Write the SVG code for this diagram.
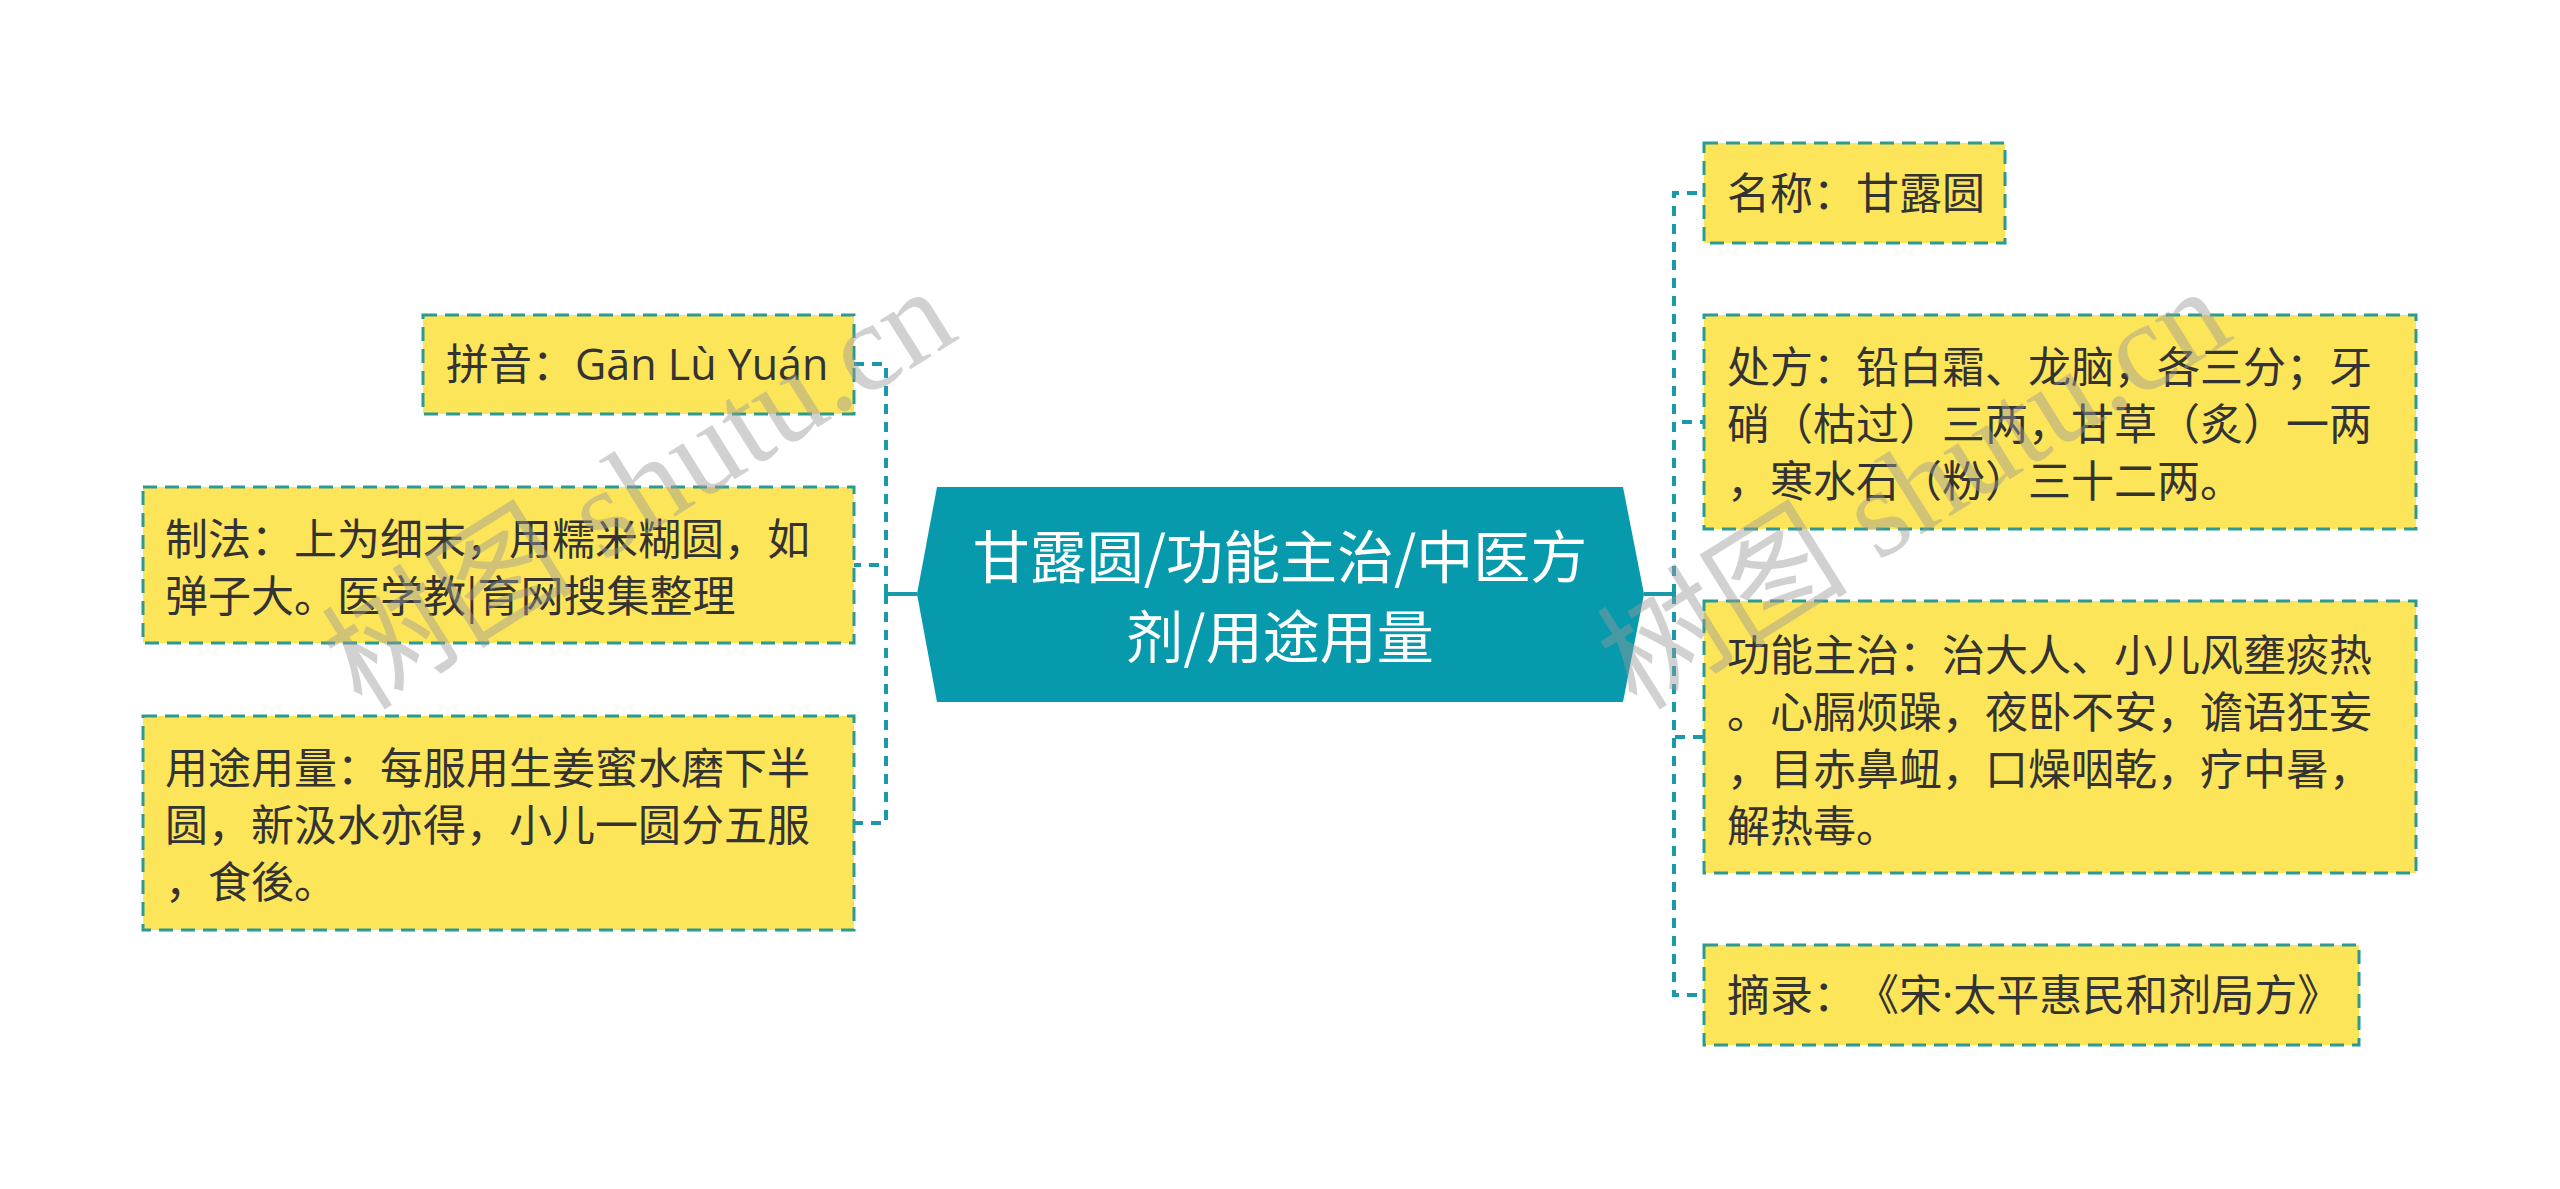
<svg xmlns="http://www.w3.org/2000/svg" width="2560" height="1189" viewBox="0 0 2560 1189">
<style>
.box{fill:#fde55a;stroke:#2a9a92;stroke-width:3;stroke-dasharray:14 8;}
.t{font-family:"Noto Sans CJK SC","Noto Sans",sans-serif;font-size:43px;fill:#333333;text-spacing-trim:space-all;}
.lat{font-family:"Open Sans","Noto Sans CJK SC",sans-serif;}
.ct{font-family:"Noto Sans CJK SC","Noto Sans",sans-serif;font-size:57px;fill:#ffffff;text-anchor:middle;}
.dc{fill:none;stroke:#1a99ab;stroke-width:4;stroke-dasharray:10 8;}
.sc{fill:none;stroke:#1a99ab;stroke-width:4;}
.wm{font-family:"Liberation Serif","Noto Sans CJK SC",serif;font-size:126px;fill:#9a9a9a;fill-opacity:0.45;}
</style>
<rect width="2560" height="1189" fill="#ffffff"/>
<g id="connectors">
<path class="sc" d="M917 594 H886 M886 584 V604"/>
<path class="dc" d="M886 594 V364 H854"/>
<path class="dc" d="M886 594 V565 H854"/>
<path class="dc" d="M886 594 V823 H854"/>
<path class="sc" d="M1644 594 H1674 M1674 584 V604"/>
<path class="dc" d="M1674 594 V193 H1704"/>
<path class="dc" d="M1674 594 V422 H1704"/>
<path class="dc" d="M1674 594 V737 H1704"/>
<path class="dc" d="M1674 594 V995 H1704"/>
</g>
<g id="center">
<polygon points="937,487 1623,487 1644,594 1623,702 937,702 917,594" fill="#079aad"/>
<text class="ct" x="1280" y="578">甘露圆/功能主治/中医方</text>
<text class="ct" x="1280" y="658">剂/用途用量</text>
</g>
<g id="pinyin">
<rect class="box" x="423" y="315" width="431" height="99"/>
<text class="t" x="446" y="380">拼音：<tspan class="lat">Gān Lù Yuán</tspan></text>
</g>
<g id="zhifa">
<rect class="box" x="143" y="487" width="711" height="156"/>
<text class="t" x="165" y="555">制法：上为细末，用糯米糊圆，如</text>
<text class="t" x="165" y="612">弹子大。医学教|育网搜集整理</text>
</g>
<g id="yongtu">
<rect class="box" x="143" y="716" width="711" height="214"/>
<text class="t" x="165" y="784">用途用量：每服用生姜蜜水磨下半</text>
<text class="t" x="165" y="841">圆，新汲水亦得，小儿一圆分五服</text>
<text class="t" x="165" y="898">，食後。</text>
</g>
<g id="mingcheng">
<rect class="box" x="1704" y="143" width="301" height="100"/>
<text class="t" x="1727" y="209">名称：甘露圆</text>
</g>
<g id="chufang">
<rect class="box" x="1704" y="315" width="712" height="214"/>
<text class="t" x="1727" y="383">处方：铅白霜、龙脑，各三分；牙</text>
<text class="t" x="1727" y="440">硝（枯过）三两，甘草（炙）一两</text>
<text class="t" x="1727" y="497">，寒水石（粉）三十二两。</text>
</g>
<g id="gongneng">
<rect class="box" x="1704" y="601" width="712" height="272"/>
<text class="t" x="1727" y="671">功能主治：治大人、小儿风壅痰热</text>
<text class="t" x="1727" y="728">。心膈烦躁，夜卧不安，谵语狂妄</text>
<text class="t" x="1727" y="785">，目赤鼻衄，口燥咽乾，疗中暑，</text>
<text class="t" x="1727" y="842">解热毒。</text>
</g>
<g id="zhailu">
<rect class="box" x="1704" y="945" width="655" height="100"/>
<text class="t" x="1727" y="1011">摘录：《宋<tspan class="lat">·</tspan>太平惠民和剂局方》</text>
</g>
<g id="watermarks">
<text class="wm" transform="translate(362,712) rotate(-32)">树图 shutu.cn</text>
<text class="wm" transform="translate(1637,712) rotate(-32)">树图 shutu.cn</text>
</g>
</svg>
